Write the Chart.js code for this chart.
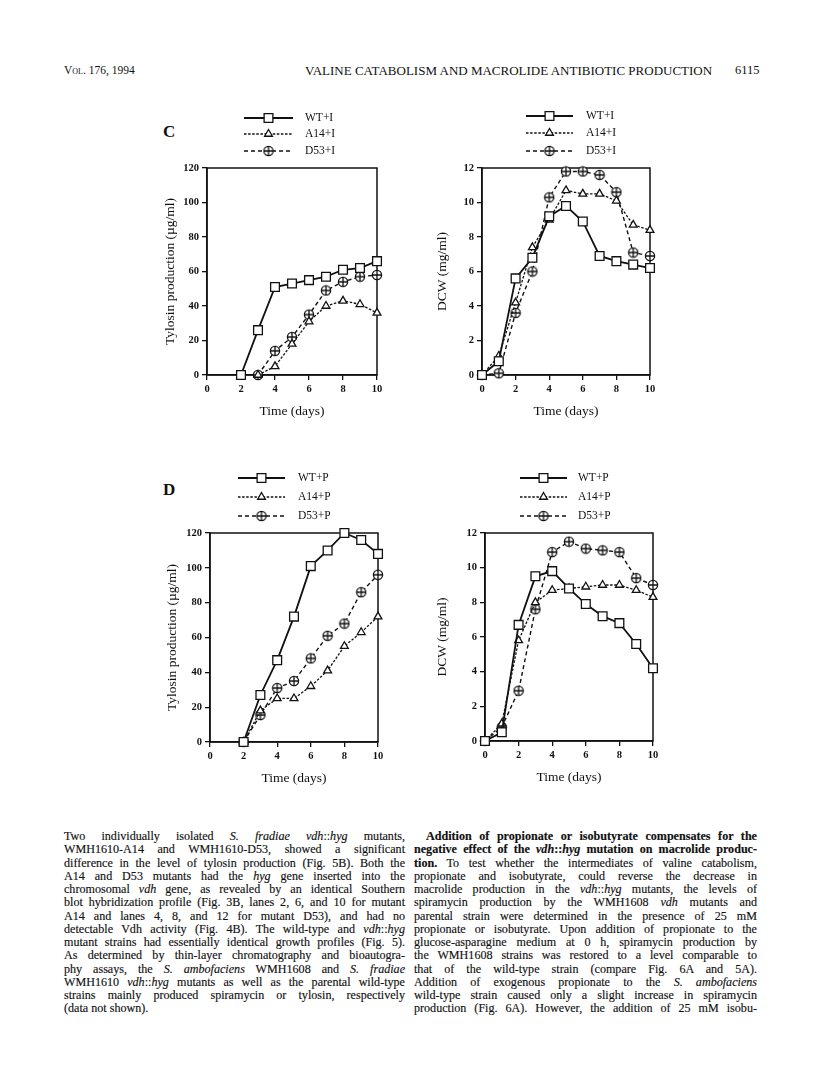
<!DOCTYPE html>
<html>
<head>
<meta charset="utf-8">
<script src="https://cdn.jsdelivr.net/npm/chart.js@4.4.1/dist/chart.umd.min.js"></script>
<style>
  body { margin: 0; background: #fff; width: 816px; height: 1092px; position: relative; overflow: hidden;
         font-family: "Liberation Serif", "Times New Roman", serif; color: #111; }
  .abs { position: absolute; white-space: nowrap; }
  canvas { position: absolute; }
  .col { position: absolute; top: 830px; font-size: 12.1px; -webkit-text-stroke: 0.15px #111; }
  .col div { height: 13.25px; line-height: 13.25px; white-space: nowrap; text-align: justify; text-align-last: justify; }
  .col div.last { text-align-last: left; }
  .letter { font-weight: bold; font-size: 17px; }
</style>
</head>
<body>

<div class="abs" style="left:64px;top:64px;font-size:11.5px;font-variant:small-caps;">Vol. 176, 1994</div>
<div class="abs" style="left:305px;top:63px;font-size:13px;">VALINE CATABOLISM AND MACROLIDE ANTIBIOTIC PRODUCTION</div>
<div class="abs" style="left:735px;top:63px;font-size:12.5px;">6115</div>

<div class="abs letter" style="left:163px;top:122px;">C</div>
<div class="abs letter" style="left:163px;top:480px;">D</div>

<canvas id="cIsoTyl"></canvas>
<canvas id="cIsoDcw"></canvas>
<canvas id="cPropTyl"></canvas>
<canvas id="cPropDcw"></canvas>

<div class="col" style="left:64px;width:341px;">
  <div>Two individually isolated <i>S. fradiae vdh</i>::<i>hyg</i> mutants,</div>
  <div>WMH1610-A14 and WMH1610-D53, showed a significant</div>
  <div>difference in the level of tylosin production (Fig. 5B). Both the</div>
  <div>A14 and D53 mutants had the <i>hyg</i> gene inserted into the</div>
  <div>chromosomal <i>vdh</i> gene, as revealed by an identical Southern</div>
  <div>blot hybridization profile (Fig. 3B, lanes 2, 6, and 10 for mutant</div>
  <div>A14 and lanes 4, 8, and 12 for mutant D53), and had no</div>
  <div>detectable Vdh activity (Fig. 4B). The wild-type and <i>vdh</i>::<i>hyg</i></div>
  <div>mutant strains had essentially identical growth profiles (Fig. 5).</div>
  <div>As determined by thin-layer chromatography and bioautogra-</div>
  <div>phy assays, the <i>S. ambofaciens</i> WMH1608 and <i>S. fradiae</i></div>
  <div>WMH1610 <i>vdh</i>::<i>hyg</i> mutants as well as the parental wild-type</div>
  <div>strains mainly produced spiramycin or tylosin, respectively</div>
  <div class="last">(data not shown).</div>
</div>

<div class="col" style="left:414px;width:343px;">
  <div style="padding-left:12px;"><b>Addition of propionate or isobutyrate compensates for the</b></div>
  <div><b>negative effect of the <i>vdh</i>::<i>hyg</i> mutation on macrolide produc-</b></div>
  <div><b>tion.</b> To test whether the intermediates of valine catabolism,</div>
  <div>propionate and isobutyrate, could reverse the decrease in</div>
  <div>macrolide production in the <i>vdh</i>::<i>hyg</i> mutants, the levels of</div>
  <div>spiramycin production by the WMH1608 <i>vdh</i> mutants and</div>
  <div>parental strain were determined in the presence of 25 mM</div>
  <div>propionate or isobutyrate. Upon addition of propionate to the</div>
  <div>glucose-asparagine medium at 0 h, spiramycin production by</div>
  <div>the WMH1608 strains was restored to a level comparable to</div>
  <div>that of the wild-type strain (compare Fig. 6A and 5A).</div>
  <div>Addition of exogenous propionate to the <i>S. ambofaciens</i></div>
  <div>wild-type strain caused only a slight increase in spiramycin</div>
  <div>production (Fig. 6A). However, the addition of 25 mM isobu-</div>
</div>

<script>
// days sampled
var daysFrom0 = [0, 1, 2, 3, 4, 5, 6, 7, 8, 9, 10];
var daysFrom2 = [2, 3, 4, 5, 6, 7, 8, 9, 10];
var daysFrom3 = [3, 4, 5, 6, 7, 8, 9, 10];

// panel C, isobutyrate: tylosin (ug/ml)
var tylIsoWT  = [0, 26, 51, 53, 55, 57, 61, 62, 66];
var tylIsoA14 = [0, 5, 18, 31, 40, 43, 41, 36];
var tylIsoD53 = [0, 14, 22, 35, 49, 54, 57, 58];
// panel C, isobutyrate: DCW (mg/ml)
var dcwIsoWT  = [0, 0.8, 5.6, 6.8, 9.2, 9.8, 8.9, 6.9, 6.6, 6.4, 6.2];
var dcwIsoA14 = [0, 1.1, 4.2, 7.4, 9.0, 10.7, 10.5, 10.5, 10.1, 8.7, 8.4];
var dcwIsoD53 = [0, 0.1, 3.6, 6.0, 10.3, 11.8, 11.8, 11.6, 10.6, 7.1, 6.9];

// panel D, propionate: tylosin (ug/ml)
var tylPropWT  = [0, 27, 47, 72, 101, 110, 120, 116, 108];
var tylPropA14 = [0, 18, 25, 25, 32, 41, 55, 63, 72];
var tylPropD53 = [0, 15.5, 31, 35, 48, 61, 68, 86, 96];
// panel D, propionate: DCW (mg/ml)
var dcwPropWT  = [0, 0.5, 6.7, 9.5, 9.8, 8.8, 7.9, 7.2, 6.8, 5.6, 4.2];
var dcwPropA14 = [0, 1.0, 5.8, 8.0, 8.7, 8.8, 8.9, 9.0, 9.0, 8.7, 8.3];
var dcwPropD53 = [0, 0.8, 2.9, 7.6, 10.9, 11.5, 11.1, 11.0, 10.9, 9.4, 9.0];

var xTicks = [0, 2, 4, 6, 8, 10];
var serif = '"Liberation Serif", "Times New Roman", serif';
var ink = '#111';

function pts(days, vals) {
	var out = [];
	for (var i = 0; i < vals.length; i++) out.push({x: days[i], y: vals[i]});
	return out;
}

// circle with a plus inside
function plusCircle() {
	var c = document.createElement('canvas');
	c.width = 12; c.height = 12;
	var g = c.getContext('2d');
	g.fillStyle = '#fff'; g.strokeStyle = ink; g.lineWidth = 1.3;
	g.beginPath(); g.arc(6, 6, 4.6, 0, Math.PI * 2); g.fill(); g.stroke();
	g.beginPath();
	g.moveTo(1.4, 6); g.lineTo(10.6, 6);
	g.moveTo(6, 1.4); g.lineTo(6, 10.6);
	g.stroke();
	return c;
}
var ringPlus = plusCircle();

function series(label, data, kind) {
	var d = {
		label: label, data: data,
		borderColor: ink, backgroundColor: '#fff', pointBackgroundColor: '#fff',
		pointBorderColor: ink, pointBorderWidth: 1.3, borderWidth: 1.4,
		tension: 0, clip: false
	};
	if (kind == 'wt') { d.pointStyle = 'rect'; d.pointRadius = 6.2; d.borderWidth = 1.8; }
	if (kind == 'a14') { d.pointStyle = 'triangle'; d.pointRadius = 4.5; d.borderDash = [2.5, 1.6]; d.borderWidth = 1.3; }
	if (kind == 'd53') { d.pointStyle = ringPlus; d.pointRadius = 5; d.borderDash = [4, 3]; d.borderWidth = 1.4; }
	return d;
}

var framePlugin = {
	id: 'frame',
	beforeDatasetsDraw: function (chart) {
		var a = chart.chartArea, ctx = chart.ctx;
		ctx.save();
		ctx.strokeStyle = ink; ctx.lineWidth = 1.5;
		ctx.strokeRect(a.left, a.top, a.right - a.left, a.bottom - a.top);
		ctx.restore();
	},
	afterDraw: function (chart, args, opts) {
		var ctx = chart.ctx;
		ctx.save();
		chart.data.datasets.forEach(function (ds, i) {
			var y = opts.ys[i];
			ctx.strokeStyle = ink; ctx.lineWidth = ds.borderWidth;
			ctx.setLineDash(ds.borderDash || []);
			ctx.beginPath(); ctx.moveTo(opts.x0, y); ctx.lineTo(opts.x1, y); ctx.stroke();
			ctx.setLineDash([]);
			ctx.fillStyle = '#fff'; ctx.strokeStyle = ink; ctx.lineWidth = ds.pointBorderWidth;
			Chart.helpers.drawPoint(ctx, {
				pointStyle: ds.pointStyle, radius: ds.pointRadius, borderWidth: ds.pointBorderWidth
			}, (opts.x0 + opts.x1) / 2, y);
			ctx.fillStyle = ink;
			ctx.font = '11.5px ' + serif;
			ctx.textBaseline = 'middle';
			ctx.fillText(ds.label, opts.xt, y);
		});
		ctx.restore();
	}
};

function panel(id, cfg) {
	var padTop = 68, padRight = 14, xAxisH = 45;
	var cv = document.getElementById(id);
	var left = cfg.canvasLeft, top = cfg.area[1] - padTop;
	var w = cfg.area[2] + padRight - left;
	var h = padTop + (cfg.area[3] - cfg.area[1]) + xAxisH;
	cv.width = w; cv.height = h;
	cv.style.left = left + 'px'; cv.style.top = top + 'px';
	cv.style.width = w + 'px'; cv.style.height = h + 'px';

	new Chart(cv, {
		type: 'line',
		data: {datasets: cfg.sets},
		plugins: [framePlugin],
		options: {
			responsive: false, animation: false, devicePixelRatio: 1,
			layout: {padding: {left: 0, top: padTop, right: padRight, bottom: 0}},
			plugins: {
				legend: {display: false}, tooltip: {enabled: false},
				frame: {
					x0: cfg.legend[0] - left, x1: cfg.legend[1] - left, xt: cfg.legend[2] - left,
					ys: cfg.legendY.map(function (v) { return v - top; })
				}
			},
			scales: {
				x: {
					type: 'linear', min: 0, max: 10,
					afterFit: function (s) { s.height = xAxisH; },
					afterBuildTicks: function (s) { s.ticks = xTicks.map(function (v) { return {value: v}; }); },
					grid: {drawOnChartArea: false, tickLength: 5, color: ink, lineWidth: 1.3},
					border: {color: ink, width: 1.5},
					ticks: {color: ink, padding: 3, maxRotation: 0, font: {family: serif, size: 10.5, weight: 'bold'}},
					title: {display: true, text: 'Time (days)', color: ink, padding: {top: 0, bottom: 0},
						font: {family: serif, size: 13.5}}
				},
				y: {
					min: 0, max: cfg.yMax,
					afterFit: function (s) { s.width = cfg.area[0] - left; },
					grid: {drawOnChartArea: false, tickLength: 5, color: ink, lineWidth: 1.3},
					border: {color: ink, width: 1.5},
					ticks: {stepSize: cfg.yStep, color: ink, padding: 3, font: {family: serif, size: 10.5, weight: 'bold'}},
					title: {display: true, text: cfg.yTitle, color: ink,
						padding: {top: cfg.yTitleX - left - 8.1, bottom: 0},
						font: {family: serif, size: 13.5}}
				}
			}
		}
	});
}

panel('cIsoTyl', {
	canvasLeft: 150, area: [207, 168, 377, 375], yTitleX: 170,
	yMax: 120, yStep: 20, yTitle: 'Tylosin production (\u00b5g/ml)',
	legend: [244, 293, 305], legendY: [118, 134, 151],
	sets: [series('WT+I', pts(daysFrom2, tylIsoWT), 'wt'),
	       series('A14+I', pts(daysFrom3, tylIsoA14), 'a14'),
	       series('D53+I', pts(daysFrom3, tylIsoD53), 'd53')]
});
panel('cIsoDcw', {
	canvasLeft: 420, area: [482, 168, 650, 375], yTitleX: 442,
	yMax: 12, yStep: 2, yTitle: 'DCW (mg/ml)',
	legend: [526, 573, 586], legendY: [116, 133, 151],
	sets: [series('WT+I', pts(daysFrom0, dcwIsoWT), 'wt'),
	       series('A14+I', pts(daysFrom0, dcwIsoA14), 'a14'),
	       series('D53+I', pts(daysFrom0, dcwIsoD53), 'd53')]
});
panel('cPropTyl', {
	canvasLeft: 150, area: [210, 533, 378, 742], yTitleX: 172,
	yMax: 120, yStep: 20, yTitle: 'Tylosin production (\u00b5g/ml)',
	legend: [238, 285, 298], legendY: [478, 497, 516],
	sets: [series('WT+P', pts(daysFrom2, tylPropWT), 'wt'),
	       series('A14+P', pts(daysFrom2, tylPropA14), 'a14'),
	       series('D53+P', pts(daysFrom2, tylPropD53), 'd53')]
});
panel('cPropDcw', {
	canvasLeft: 420, area: [485, 533, 653, 741], yTitleX: 442,
	yMax: 12, yStep: 2, yTitle: 'DCW (mg/ml)',
	legend: [520, 567, 578], legendY: [478, 497, 516],
	sets: [series('WT+P', pts(daysFrom0, dcwPropWT), 'wt'),
	       series('A14+P', pts(daysFrom0, dcwPropA14), 'a14'),
	       series('D53+P', pts(daysFrom0, dcwPropD53), 'd53')]
});
</script>
</body>
</html>
